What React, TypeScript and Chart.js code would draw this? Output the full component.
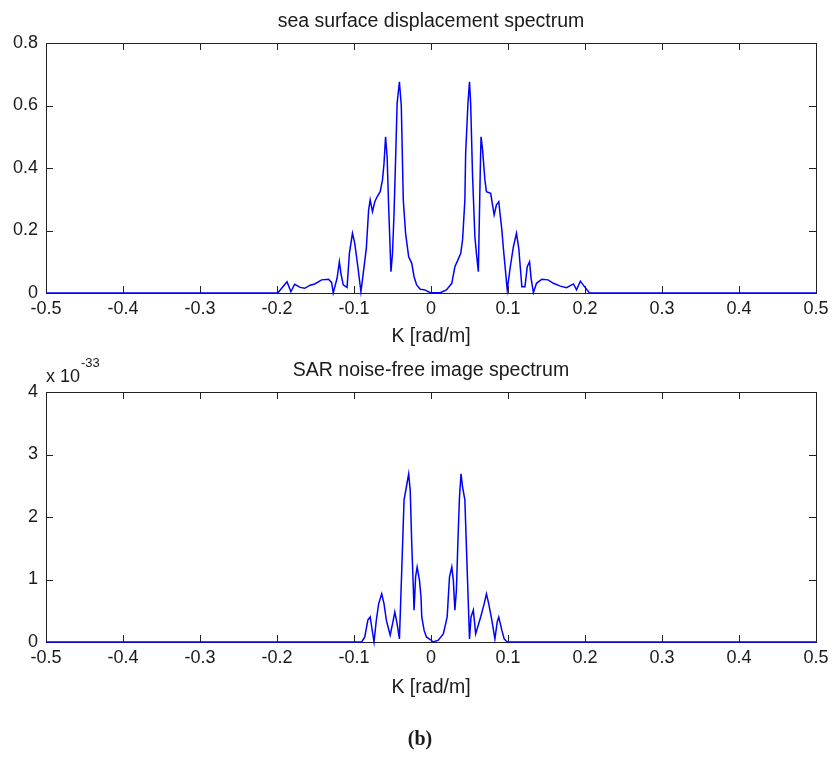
import React, { useEffect, useRef } from 'react';
import { Chart, registerables } from 'chart.js';

Chart.register(...registerables);

// ---- Data ----
const kTop = [
  -0.5, -0.199, -0.187, -0.182, -0.177, -0.170, -0.164, -0.157, -0.151, -0.142,
  -0.133, -0.129, -0.127, -0.122, -0.119, -0.117, -0.114, -0.109, -0.106, -0.102,
  -0.099, -0.095, -0.091, -0.088, -0.084, -0.081, -0.079, -0.076, -0.073, -0.070,
  -0.066, -0.063, -0.061, -0.059, -0.057, -0.055, -0.052, -0.050, -0.048, -0.046,
  -0.044, -0.041, -0.0386, -0.036, -0.033, -0.029, -0.025, -0.022, -0.0186, -0.014,
  -0.008, -0.001, 0.012, 0.020, 0.027, 0.031, 0.035, 0.0386, 0.041, 0.044,
  0.045, 0.048, 0.050, 0.0515, 0.054, 0.057, 0.059, 0.0615, 0.064, 0.065,
  0.067, 0.070, 0.072, 0.0775, 0.082, 0.085, 0.088, 0.092, 0.094, 0.099,
  0.103, 0.107, 0.111, 0.114, 0.118, 0.122, 0.125, 0.128, 0.130, 0.133,
  0.137, 0.144, 0.152, 0.159, 0.168, 0.176, 0.185, 0.189, 0.194, 0.2,
  0.206, 0.5,
];
const vTop = [
  0, 0, 0.036, 0.004, 0.028, 0.018, 0.015, 0.025, 0.029, 0.042,
  0.044, 0.033, 0, 0.047, 0.10, 0.063, 0.026, 0.018, 0.127, 0.191,
  0.159, 0.084, 0.004, 0.063, 0.143, 0.266, 0.298, 0.26, 0.292, 0.308,
  0.324, 0.362, 0.415, 0.50, 0.436, 0.276, 0.068, 0.127, 0.255, 0.426,
  0.607, 0.676, 0.60, 0.298, 0.191, 0.116, 0.095, 0.052, 0.026, 0.012,
  0.01, 0.001, 0.001, 0.01, 0.031, 0.084, 0.106, 0.127, 0.17, 0.298,
  0.447, 0.607, 0.676, 0.607, 0.372, 0.18, 0.127, 0.068, 0.394, 0.50,
  0.458, 0.362, 0.324, 0.319, 0.25, 0.282, 0.292, 0.202, 0.143, 0.01,
  0.084, 0.148, 0.191, 0.143, 0.02, 0.02, 0.084, 0.10, 0.047, 0.001,
  0.031, 0.044, 0.042, 0.031, 0.022, 0.017, 0.029, 0.01, 0.038, 0.018,
  0, 0,
];

const kBot = [
  -0.5, -0.090, -0.086, -0.082, -0.079, -0.077, -0.074, -0.071, -0.068, -0.064,
  -0.061, -0.058, -0.053, -0.049, -0.047, -0.044, -0.041, -0.038, -0.035, -0.032,
  -0.029, -0.027, -0.025, -0.023, -0.022, -0.020, -0.018, -0.015, -0.013, -0.012,
  -0.009, -0.006, -0.001, 0.003, 0.0095, 0.016, 0.021, 0.024, 0.027, 0.029,
  0.031, 0.033, 0.035, 0.037, 0.039, 0.041, 0.044, 0.047, 0.050, 0.052,
  0.055, 0.058, 0.0645, 0.069, 0.072, 0.075, 0.079, 0.083, 0.086, 0.088,
  0.092, 0.095, 0.099, 0.5,
];
// values in units of 1e-33
const vBot = [
  0, 0, 0.08, 0.35, 0.40, 0.24, 0, 0.35, 0.61, 0.77,
  0.61, 0.35, 0.11, 0.35, 0.48, 0.29, 0.05, 1.15, 2.27, 2.48,
  2.69, 2.43, 1.57, 0.88, 0.51, 1.04, 1.2, 0.99, 0.72, 0.40,
  0.19, 0.08, 0.04, 0, 0.03, 0.13, 0.40, 1.04, 1.2, 0.99,
  0.51, 0.83, 1.63, 2.32, 2.69, 2.48, 2.27, 1.15, 0.05, 0.40,
  0.51, 0.13, 0.40, 0.61, 0.77, 0.61, 0.35, 0.05, 0.32, 0.40,
  0.19, 0.05, 0, 0,
];

const xTickValues = [-0.5, -0.4, -0.3, -0.2, -0.1, 0, 0.1, 0.2, 0.3, 0.4, 0.5];
const xTickLabels = ['-0.5', '-0.4', '-0.3', '-0.2', '-0.1', '0', '0.1', '0.2', '0.3', '0.4', '0.5'];
const yTopTickValues = [0, 0.2, 0.4, 0.6, 0.8];
const yTopTickLabels = ['0', '0.2', '0.4', '0.6', '0.8'];
const yBotTickValues = [0, 1, 2, 3, 4];
const yBotTickLabels = ['0', '1', '2', '3', '4'];

const topTitle = 'sea surface displacement spectrum';
const botTitle = 'SAR noise-free image spectrum';
const xAxisLabel = 'K [rad/m]';
const expBase = 'x 10';
const expPower = '-33';
const caption = '(b)';

const FONT = '"Liberation Sans", Arial, sans-serif';
const TEXT = '#1a1a1a';

const matlabPlugin = {
  id: 'matlabAxes',
  beforeDatasetsDraw(chart: any) {
    const { ctx, chartArea: a } = chart;
    const xs = chart.scales.x;
    const ys = chart.scales.y;
    const o = chart.options.plugins.matlabAxes;
    ctx.save();
    ctx.strokeStyle = '#222';
    ctx.lineWidth = 1;
    ctx.strokeRect(Math.round(a.left) + 0.5, Math.round(a.top) + 0.5, Math.round(a.right - a.left), Math.round(a.bottom - a.top));
    const tl = 7;
    ctx.beginPath();
    for (const v of xTickValues) {
      const px = Math.round(xs.getPixelForValue(v)) + 0.5;
      ctx.moveTo(px, a.bottom);
      ctx.lineTo(px, a.bottom - tl);
      ctx.moveTo(px, a.top);
      ctx.lineTo(px, a.top + tl);
    }
    for (const v of o.yTicks) {
      const py = Math.round(ys.getPixelForValue(v)) + 0.5;
      ctx.moveTo(a.left, py);
      ctx.lineTo(a.left + tl, py);
      ctx.moveTo(a.right, py);
      ctx.lineTo(a.right - tl, py);
    }
    ctx.stroke();
    ctx.restore();
  },
  afterDraw(chart: any) {
    const { ctx, chartArea: a } = chart;
    const o = chart.options.plugins.matlabAxes;
    const cx = (a.left + a.right) / 2;
    ctx.save();
    ctx.fillStyle = TEXT;
    ctx.textAlign = 'center';
    ctx.textBaseline = 'middle';
    ctx.font = `19.5px ${FONT}`;
    ctx.fillText(o.title, cx, a.top - 21);
    ctx.fillText(xAxisLabel, cx, a.bottom + o.xlabelOffset);
    if (o.exponent) {
      ctx.textAlign = 'left';
      ctx.font = `18px ${FONT}`;
      ctx.fillText(expBase, a.left, a.top - 15);
      const w = ctx.measureText(expBase).width;
      ctx.font = `13px ${FONT}`;
      ctx.fillText(expPower, a.left + w + 1, a.top - 29);
    }
    if (o.caption) {
      ctx.textAlign = 'center';
      ctx.font = `bold 20px "Liberation Serif", "Times New Roman", serif`;
      ctx.fillText(caption, cx - 11, a.bottom + 98);
    }
    ctx.restore();
  },
};

function buildConfig(k: number[], v: number[], yMax: number, yTicks: number[], yLabels: string[], padTop: number, xAxisHeight: number, extra: any) {
  return {
    type: 'line' as const,
    data: {
      datasets: [
        {
          data: k.map((x, i) => ({ x, y: v[i] })),
          borderColor: '#0000ff',
          borderWidth: 1.5,
          pointRadius: 0,
          tension: 0,
          fill: false,
          clip: false as any,
        },
      ],
    },
    options: {
      animation: false as const,
      responsive: false,
      maintainAspectRatio: false,
      layout: { padding: { top: padTop, right: 17, left: 0, bottom: 0 } },
      plugins: {
        legend: { display: false },
        tooltip: { enabled: false },
        title: { display: false },
        matlabAxes: { yTicks, ...extra },
      },
      scales: {
        x: {
          type: 'linear' as const,
          min: -0.5,
          max: 0.5,
          grid: { display: false, drawTicks: false },
          border: { display: false },
          afterBuildTicks: (s: any) => { s.ticks = xTickValues.map((value) => ({ value })); },
          afterFit: (s: any) => { s.height = xAxisHeight; s.paddingLeft = 0; s.paddingRight = 0; },
          ticks: {
            autoSkip: false,
            maxRotation: 0,
            padding: 5,
            color: TEXT,
            font: { family: FONT, size: 18 },
            callback: (_val: any, idx: number) => xTickLabels[idx],
          },
        },
        y: {
          type: 'linear' as const,
          min: 0,
          max: yMax,
          grid: { display: false, drawTicks: false },
          border: { display: false },
          afterBuildTicks: (s: any) => { s.ticks = yTicks.map((value) => ({ value })); },
          afterFit: (s: any) => { s.width = 46; s.paddingTop = 0; s.paddingBottom = 0; },
          ticks: {
            autoSkip: false,
            padding: 8,
            color: TEXT,
            font: { family: FONT, size: 18 },
            callback: (_val: any, idx: number) => yLabels[idx],
          },
        },
      },
    },
    plugins: [matlabPlugin],
  };
}

export default function App() {
  const topRef = useRef<HTMLCanvasElement>(null);
  const botRef = useRef<HTMLCanvasElement>(null);

  useEffect(() => {
    const c1 = new Chart(topRef.current!, buildConfig(kTop, vTop, 0.8, yTopTickValues, yTopTickLabels, 43, 57, { title: topTitle, xlabelOffset: 44 }) as any);
    const c2 = new Chart(botRef.current!, buildConfig(kBot, vBot, 4, yBotTickValues, yBotTickLabels, 42, 123, { title: botTitle, xlabelOffset: 46, exponent: true, caption: true }) as any);
    return () => { c1.destroy(); c2.destroy(); };
  }, []);

  return (
    <div style={{ position: 'absolute', left: 0, top: 0, width: 833, height: 765, background: '#fff' }}>
      <canvas ref={topRef} width={833} height={350} style={{ position: 'absolute', left: 0, top: 0, width: 833, height: 350 }} />
      <canvas ref={botRef} width={833} height={415} style={{ position: 'absolute', left: 0, top: 350, width: 833, height: 415 }} />
    </div>
  );
}
